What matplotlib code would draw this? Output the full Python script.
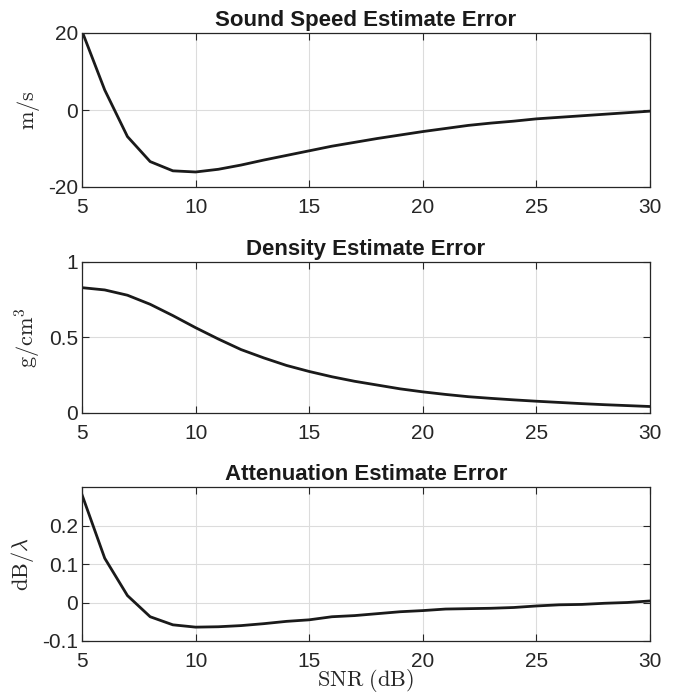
import matplotlib
matplotlib.use("Agg")
import matplotlib.pyplot as plt

plt.rcParams['font.family'] = ['Liberation Sans', 'DejaVu Sans']
plt.rcParams['mathtext.fontset'] = 'cm'

# SNR axis (dB)
snr = list(range(5, 31))

# sound speed error (m/s)
c_err = [20.5, 5.2, -6.9, -13.4, -15.8, -16.1, -15.4, -14.3, -13.0, -11.8,
         -10.6, -9.4, -8.4, -7.4, -6.5, -5.6, -4.8, -4.0, -3.4, -2.9,
         -2.3, -1.9, -1.5, -1.1, -0.7, -0.3]

# density error (g/cm^3)
rho_err = [0.83, 0.815, 0.78, 0.72, 0.645, 0.565, 0.49, 0.42, 0.365, 0.315,
           0.275, 0.24, 0.21, 0.185, 0.16, 0.14, 0.123, 0.108, 0.097, 0.087,
           0.078, 0.07, 0.062, 0.055, 0.049, 0.043]

# attenuation error (dB/lambda)
att_err = [0.28, 0.115, 0.018, -0.037, -0.058, -0.064, -0.063, -0.06, -0.055, -0.049,
           -0.045, -0.037, -0.034, -0.029, -0.024, -0.021, -0.017, -0.016, -0.015, -0.013,
           -0.009, -0.006, -0.005, -0.002, 0.0, 0.004]

titles = ['Sound Speed Estimate Error', 'Density Estimate Error', 'Attenuation Estimate Error']
ylabels = [r'$\mathrm{m/s}$', r'$\mathrm{g/cm^3}$', r'$\mathrm{dB}/\lambda$']
ylims = [(-20, 20), (0, 1), (-0.1, 0.3)]
yticks = [[-20, 0, 20], [0, 0.5, 1], [-0.1, 0, 0.1, 0.2]]
yticklabels = [['-20', '0', '20'], ['0', '0.5', '1'], ['-0.1', '0', '0.1', '0.2']]
series = [c_err, rho_err, att_err]

W, H = 676, 696
fig = plt.figure(figsize=(W / 100, H / 100), dpi=100)

# axes boxes in pixels: (top, bottom)
boxes = [(33, 187), (262, 413), (487, 641)]
left, right = 82, 650

for i in range(3):
    top, bot = boxes[i]
    ax = fig.add_axes([left / W, 1 - bot / H, (right - left) / W, (bot - top) / H])
    ax.plot(snr, series[i], color='#1a1a1a', lw=2.0)
    ax.set_xlim(5, 30)
    ax.set_ylim(*ylims[i])
    ax.set_xticks([5, 10, 15, 20, 25, 30])
    ax.set_yticks(yticks[i])
    ax.set_yticklabels(yticklabels[i])
    ax.grid(True, color='#dcdcdc', lw=0.8)
    ax.set_axisbelow(True)
    ax.tick_params(direction='in', top=True, right=True, labelsize=15,
                   length=5, width=0.8, colors='#262626')
    ax.tick_params(axis='x', pad=8)
    ax.tick_params(axis='y', pad=3)
    for sp in ax.spines.values():
        sp.set_linewidth(0.9)
        sp.set_color('#262626')
    ax.set_title(titles[i], fontsize=16, fontweight='bold', color='#1a1a1a', pad=5)
    ax.set_ylabel(ylabels[i], fontsize=16, color='#262626', labelpad=4)

ax.set_xlabel(r'$\mathrm{SNR\ (dB)}$', fontsize=16, color='#262626', labelpad=-3)

fig.savefig('out.png', dpi=100)
